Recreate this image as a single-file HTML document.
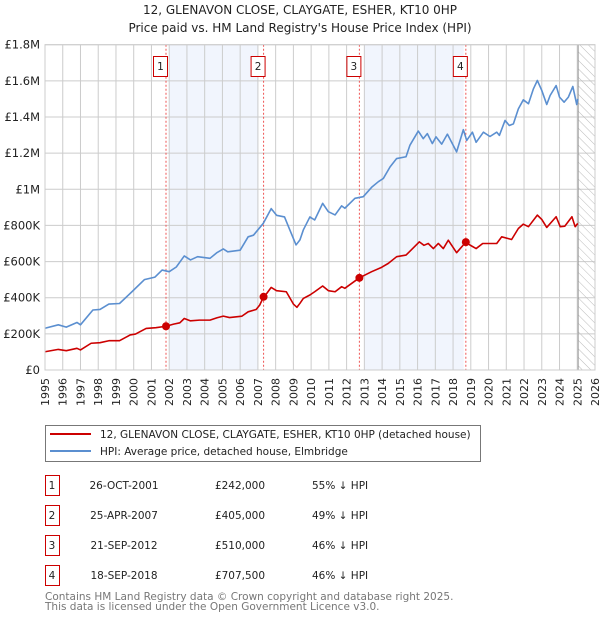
<!DOCTYPE html>
<html><head><meta charset="utf-8"><style>
body{margin:0;background:#fff;width:600px;height:620px;overflow:hidden;font-family:"DejaVu Sans","Liberation Sans",sans-serif;}
svg{position:absolute;left:0;top:0}
</style></head><body>
<svg id="c" width="600" height="620" xmlns="http://www.w3.org/2000/svg">
<defs><pattern id="hatch" width="6" height="6" patternUnits="userSpaceOnUse" patternTransform="rotate(-45)"><line x1="0" y1="0" x2="0" y2="6" stroke="#bbb" stroke-width="1"/></pattern></defs>
<text x="300" y="14" text-anchor="middle" font-size="12" fill="#222">12, GLENAVON CLOSE, CLAYGATE, ESHER, KT10 0HP</text>
<text x="300" y="32" text-anchor="middle" font-size="12" fill="#222">Price paid vs. HM Land Registry's House Price Index (HPI)</text>
<g id="plot"></g>
<g>
<rect x="45.5" y="425.5" width="435" height="36" fill="#fff" stroke="#777"/>
<line x1="50" y1="434" x2="91" y2="434" stroke="#cc0000" stroke-width="2"/>
<text x="100" y="438" font-size="10.5" fill="#222">12, GLENAVON CLOSE, CLAYGATE, ESHER, KT10 0HP (detached house)</text>
<line x1="50" y1="451" x2="91" y2="451" stroke="#5b8fd0" stroke-width="2"/>
<text x="100" y="455" font-size="10.5" fill="#222">HPI: Average price, detached house, Elmbridge</text>
</g>
<g id="table" font-size="10.5" fill="#222"></g>
<text x="45" y="600" font-size="10.5" fill="#777">Contains HM Land Registry data © Crown copyright and database right 2025.</text>
<text x="45" y="610" font-size="10.5" fill="#777">This data is licensed under the Open Government Licence v3.0.</text>
</svg>
<script>
const hpiYears=[1995.0,1995.75,1996.2,1996.8,1997.0,1997.7,1998.1,1998.6,1999.2,1999.9,2000.6,2001.2,2001.6,2002.0,2002.4,2002.85,2003.2,2003.6,2004.3,2004.7,2005.05,2005.3,2006.0,2006.45,2006.75,2007.3,2007.75,2008.05,2008.5,2008.8,2009.15,2009.37,2009.56,2009.93,2010.2,2010.65,2010.97,2011.35,2011.72,2011.9,2012.47,2012.94,2013.41,2013.79,2014.07,2014.45,2014.82,2015.35,2015.57,2016.04,2016.32,2016.55,2016.83,2017.04,2017.36,2017.68,2018.2,2018.58,2018.77,2019.09,2019.3,2019.71,2020.08,2020.46,2020.61,2020.93,2021.17,2021.4,2021.68,2021.96,2022.25,2022.53,2022.75,2023.0,2023.28,2023.47,2023.81,2024.0,2024.26,2024.5,2024.75,2024.97,2025.03];
const hpiValues=[231,250,237,263,250,332,335,365,368,433,500,514,553,544,570,631,609,627,618,650,670,654,663,737,746,811,893,856,847,775,692,720,775,847,830,922,876,858,908,895,950,959,1011,1042,1060,1124,1170,1180,1244,1322,1280,1308,1253,1290,1250,1305,1207,1330,1270,1316,1260,1316,1292,1316,1298,1381,1353,1362,1445,1495,1473,1556,1602,1547,1469,1519,1574,1510,1482,1510,1569,1469,1500];
const priceYears=[1995.0,1995.75,1996.2,1996.8,1997.0,1997.6,1998.1,1998.6,1999.2,1999.8,2000.1,2000.7,2001.25,2001.82,2002.25,2002.6,2002.85,2003.2,2003.7,2004.3,2004.7,2005.05,2005.4,2006.1,2006.45,2006.9,2007.1,2007.32,2007.5,2007.75,2008.05,2008.6,2009.0,2009.2,2009.37,2009.56,2009.93,2010.2,2010.65,2010.97,2011.35,2011.72,2011.9,2012.72,2013.41,2013.97,2014.35,2014.82,2015.35,2015.67,2016.1,2016.36,2016.6,2016.89,2017.17,2017.45,2017.73,2018.2,2018.72,2018.96,2019.3,2019.67,2020.46,2020.74,2021.12,2021.3,2021.68,2021.96,2022.25,2022.75,2023.0,2023.28,2023.81,2024.04,2024.3,2024.7,2024.88,2025.03];
const priceValues=[101,114,107,120,111,148,151,162,162,194,199,230,234,242,254,261,285,272,276,276,289,298,290,298,322,335,359,405,424,457,439,433,365,347,369,396,415,433,465,439,433,461,452,510,544,568,590,627,636,667,709,690,700,672,700,672,718,649,707.5,691,672,700,700,737,727,722,783,807,793,857,833,789,848,793,796,848,793,811];
const saleLabels=["1","2","3","4"];
const saleYears=[2001.82,2007.32,2012.72,2018.72];
const saleValues=[242,405,510,707.5];
const saleDates=["26-OCT-2001","25-APR-2007","21-SEP-2012","18-SEP-2018"];
const salePrices=["£242,000","£405,000","£510,000","£707,500"];
const salePct=["55% ↓ HPI","49% ↓ HPI","46% ↓ HPI","46% ↓ HPI"];
const shadeRanges=[[2002.0,2007.0],[2013.0,2018.6]];
const yTicks=[0,200,400,600,800,1000,1200,1400,1600,1800];
const yTickLabels=["£0","£200K","£400K","£600K","£800K","£1M","£1.2M","£1.4M","£1.6M","£1.8M"];
const xTicks=[];for(let y=1995;y<=2026;y++)xTicks.push(y);
const hatchStart=2025.05;

const L=45,R=595,T=44.7,B=370;
const xs=y=>L+(y-1995)/(2026-1995)*(R-L);
const ys=v=>B-v/1800*(B-T);
const NS="http://www.w3.org/2000/svg";
const plot=document.getElementById('plot');
function mk(tag,attrs,parent){const e=document.createElementNS(NS,tag);for(const k in attrs)e.setAttribute(k,attrs[k]);(parent||plot).appendChild(e);return e;}

shadeRanges.forEach(r=>{
 const e=mk('rect',{x:xs(r[0]),y:T,width:xs(r[1])-xs(r[0]),height:B-T,fill:'#eef3fc',opacity:0.8});
 
 
});
xTicks.forEach(t=>{
 const e=mk('line',{x1:xs(t),x2:xs(t),y1:T,y2:B,stroke:'#ccc','stroke-width':1});
 
 
 const tx=mk('text',{x:0,y:0,transform:`translate(${xs(t)+4},${B+36}) rotate(-90)`,'font-size':11,fill:'#222'});
 tx.textContent=t;
 
 
});
yTicks.forEach((t,i)=>{
 const e=mk('line',{x1:L,x2:R,y1:ys(t),y2:ys(t),stroke:'#ccc','stroke-width':1});
 
 
 const tx=mk('text',{x:L-5,y:ys(t)+4,'text-anchor':'end','font-size':11.5,fill:'#222'});
 tx.textContent=yTickLabels[i];
 
 
});
const h=mk('rect',{x:xs(hatchStart),y:T,width:R-xs(hatchStart),height:B-T,fill:'url(#hatch)'});


const hl=mk('line',{x1:xs(hatchStart),x2:xs(hatchStart),y1:T,y2:B,stroke:'#999','stroke-width':1});



saleYears.forEach((y,i)=>{
 const e=mk('line',{x1:xs(y),x2:xs(y),y1:T,y2:B,stroke:'#e55','stroke-width':1,'stroke-dasharray':'2,2'});
 
 
 const bx=mk('rect',{x:xs(y)-12.5,y:56.5,width:14,height:20,fill:'#fff',stroke:'#c00'});
 
 
 const tx=mk('text',{x:xs(y)-5.5,y:70,'text-anchor':'middle','font-size':10.5,fill:'#222'});
 tx.textContent=saleLabels[i];
 
 
});
const hp=mk('polyline',{points:hpiYears.map((y,i)=>xs(y)+','+ys(hpiValues[i])).join(' '),fill:'none',stroke:'#5b8fd0','stroke-width':1.6,'stroke-linejoin':'round'});


const pp=mk('polyline',{points:priceYears.map((y,i)=>xs(y)+','+ys(priceValues[i])).join(' '),fill:'none',stroke:'#cc0000','stroke-width':1.6,'stroke-linejoin':'round'});


saleYears.forEach((y,i)=>{
 const c=mk('circle',{cx:xs(y),cy:ys(saleValues[i]),r:4,fill:'#cc0000'});
 
 
});
const fr=mk('rect',{x:L,y:T,width:R-L,height:B-T,fill:'none',stroke:'#ccc'});



const tbl=document.getElementById('table');
saleLabels.forEach((s,i)=>{
 const y0=475+i*30;
 const b=mk('rect',{x:45.5,y:y0+0.5,width:14,height:20,fill:'#fff',stroke:'#c00'},tbl);
 
 
 const cells=[[52,s,'middle'],[124,saleDates[i],'middle'],[240,salePrices[i],'middle'],[312,salePct[i],'start']];
 cells.forEach(c=>{
  const t=mk('text',{x:c[0],y:y0+14,'text-anchor':c[2]},tbl);
  t.textContent=c[1];
  
  
 });
});
</script>
</body></html>
